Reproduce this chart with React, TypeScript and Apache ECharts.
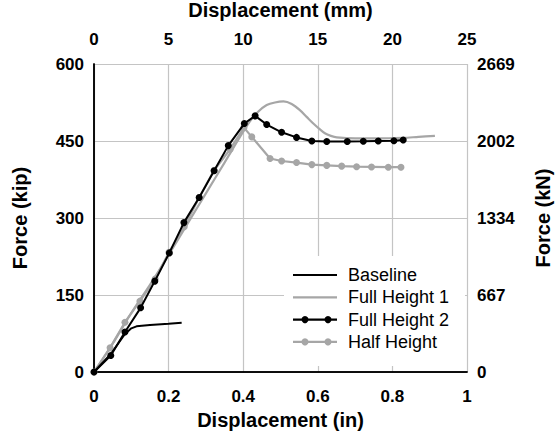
import React, { useEffect, useRef } from "react";
import * as echarts from "echarts";

const baseline: number[][] = [
  [0, 0], [0.045, 35], [0.083, 74], [0.092, 80], [0.1, 85], [0.114, 89],
  [0.15, 91.5], [0.2, 94], [0.235, 96],
];

const fullHeight1: number[][] = [
  [0, 0], [0.05, 55], [0.1, 115], [0.15, 170], [0.2, 228], [0.25, 288],
  [0.3, 348], [0.35, 408], [0.4, 468], [0.42, 490], [0.44, 507], [0.463, 520],
  [0.485, 525], [0.508, 527], [0.53, 522], [0.552, 510], [0.57, 497],
  [0.588, 484], [0.605, 473], [0.619, 465], [0.635, 460], [0.651, 457],
  [0.7, 455], [0.75, 455], [0.8, 455.5], [0.829, 456], [0.87, 458], [0.914, 460],
];

const fullHeight2: number[][] = [
  [0, 0], [0.045, 32], [0.083, 78], [0.125, 125], [0.163, 177], [0.202, 232],
  [0.241, 291], [0.282, 340], [0.322, 392], [0.36, 441], [0.403, 484],
  [0.432, 499], [0.463, 482], [0.503, 467], [0.543, 457], [0.584, 450],
  [0.624, 449], [0.679, 449], [0.722, 449.5], [0.762, 450], [0.804, 450.5],
  [0.829, 452],
];

const halfHeight: number[][] = [
  [0, 0], [0.043, 47], [0.083, 97], [0.123, 138], [0.164, 181], [0.201, 233],
  [0.242, 283], [0.282, 340], [0.322, 393], [0.365, 434], [0.402, 476],
  [0.423, 458], [0.472, 416], [0.503, 411], [0.543, 408], [0.584, 404],
  [0.624, 402.5], [0.664, 401], [0.704, 400], [0.744, 399.5], [0.789, 399],
  [0.823, 399],
];

const seriesNames = ["Baseline", "Full Height 1", "Full Height 2", "Half Height"];
const rightTickLabels = ["0", "667", "1334", "2002", "2669"];

const BLACK = "#000000";
const GRAY = "#a6a6a6";
const FONT = "Liberation Sans";

const legendStyles = [
  { color: BLACK, markers: false },
  { color: GRAY, markers: false },
  { color: BLACK, markers: true },
  { color: GRAY, markers: true },
];

export default function App() {
  const ref = useRef<HTMLDivElement>(null);
  useEffect(() => {
    if (!ref.current) return;
    const chart = echarts.init(ref.current, undefined, { renderer: "svg" });
    const tickLabel = {
      fontFamily: FONT,
      fontWeight: "bold" as const,
      fontSize: 17,
      color: "#000",
    };
    const axisName = {
      fontFamily: FONT,
      fontWeight: "bold" as const,
      fontSize: 20,
      color: "#000",
    };

    const legendChildren: any[] = [
      {
        type: "rect",
        z: 100,
        shape: { x: 284, y: 256, width: 181, height: 110 },
        style: { fill: "#fff" },
        silent: true,
      },
    ];
    seriesNames.forEach((name, i) => {
      const y = 275 + i * 22.3;
      const st = legendStyles[i];
      legendChildren.push({
        type: "line",
        z: 101,
        shape: { x1: 293, y1: y, x2: 337, y2: y },
        style: { stroke: st.color, lineWidth: 2.2 },
        silent: true,
      });
      if (st.markers) {
        [305, 328].forEach((cx) =>
          legendChildren.push({
            type: "circle",
            z: 102,
            shape: { cx, cy: y, r: 3.5 },
            style: { fill: st.color },
            silent: true,
          })
        );
      }
      legendChildren.push({
        type: "text",
        z: 101,
        x: 348,
        y,
        style: {
          text: name,
          fontFamily: FONT,
          fontSize: 18,
          fill: "#000",
          verticalAlign: "middle",
          align: "left",
        },
        silent: true,
      });
    });

    chart.setOption({
      animation: false,
      backgroundColor: "#fff",
      grid: { left: 94, right: 91, top: 64, bottom: 64, outerBoundsMode: "none", containLabel: false },
      graphic: legendChildren,
      xAxis: [
        {
          type: "value",
          position: "bottom",
          min: 0,
          max: 1,
          interval: 0.2,
          name: "Displacement (in)",
          nameLocation: "middle",
          nameGap: 38,
          nameTextStyle: axisName,
          axisLine: { show: true, lineStyle: { color: "#000", width: 1.5 } },
          axisTick: { show: false },
          axisLabel: { ...tickLabel, margin: 16 },
          splitLine: { show: true, lineStyle: { color: "#c4c4c4", width: 1.2 } },
        },
        {
          type: "value",
          position: "top",
          min: 0,
          max: 25,
          interval: 5,
          name: "Displacement (mm)",
          nameLocation: "middle",
          nameGap: 44,
          nameTextStyle: axisName,
          axisLine: { show: true, lineStyle: { color: "#000", width: 1.5 } },
          axisTick: { show: false },
          axisLabel: { ...tickLabel, margin: 16 },
          splitLine: { show: false },
        },
      ],
      yAxis: [
        {
          type: "value",
          position: "left",
          min: 0,
          max: 600,
          interval: 150,
          name: "Force (kip)",
          nameLocation: "middle",
          nameGap: 64,
          nameRotate: 90,
          nameTextStyle: axisName,
          axisLine: { show: true, lineStyle: { color: "#000", width: 1.5 } },
          axisTick: { show: false },
          axisLabel: { ...tickLabel, margin: 10 },
          splitLine: { show: true, lineStyle: { color: "#c4c4c4", width: 1.2 } },
        },
        {
          type: "value",
          position: "right",
          min: 0,
          max: 2669,
          interval: 667.25,
          name: "Force (kN)",
          nameLocation: "middle",
          nameGap: 66,
          nameRotate: 90,
          nameTextStyle: axisName,
          axisLine: { show: true, lineStyle: { color: "#000", width: 1.5 } },
          axisTick: { show: false },
          axisLabel: {
            ...tickLabel,
            margin: 10,
            formatter: (_v: number, i: number) => rightTickLabels[i] ?? "",
          },
          splitLine: { show: false },
        },
      ],
      series: [
        {
          name: seriesNames[0],
          type: "line",
          data: baseline,
          showSymbol: false,
          symbol: "none",
          lineStyle: { color: BLACK, width: 2 },
          itemStyle: { color: BLACK },
          z: 5,
        },
        {
          name: seriesNames[1],
          type: "line",
          data: fullHeight1,
          smooth: 0.3,
          showSymbol: false,
          symbol: "none",
          lineStyle: { color: GRAY, width: 2.2 },
          itemStyle: { color: GRAY },
          z: 2,
        },
        {
          name: seriesNames[2],
          type: "line",
          data: fullHeight2,
          symbol: "circle",
          symbolSize: 7,
          lineStyle: { color: BLACK, width: 2 },
          itemStyle: { color: BLACK },
          z: 4,
        },
        {
          name: seriesNames[3],
          type: "line",
          data: halfHeight,
          symbol: "circle",
          symbolSize: 7,
          lineStyle: { color: GRAY, width: 2.2 },
          itemStyle: { color: GRAY },
          z: 3,
        },
      ],
    });
    return () => chart.dispose();
  }, []);
  return <div ref={ref} style={{ width: 558, height: 436, position: "absolute", left: 0, top: 0 }} />;
}
